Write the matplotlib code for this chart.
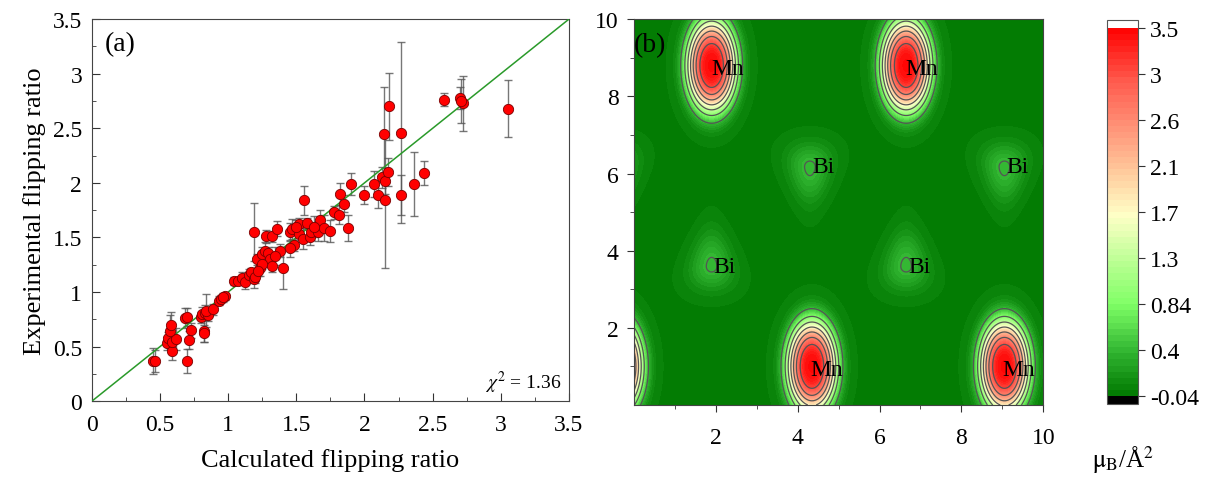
import matplotlib
matplotlib.use("Agg")
import matplotlib.pyplot as plt
import numpy as np
from matplotlib.colors import LinearSegmentedColormap

plt.rcParams['font.family'] = ['Liberation Serif', 'DejaVu Serif']
plt.rcParams['mathtext.fontset'] = 'stix'

# ---- panel (a): flipping ratios ----
calc = [0.45, 0.46, 0.55, 0.56, 0.585, 0.59, 0.62, 0.575, 0.58,
        0.70, 0.71, 0.73, 0.68, 0.70,
        0.80, 0.81, 0.82, 0.82, 0.83, 0.85, 0.84,
        0.89, 0.93, 0.95, 0.98, 0.96,
        1.04, 1.07, 1.10, 1.12, 1.15, 1.17, 1.19, 1.19, 1.20,
        1.21, 1.23, 1.25, 1.27, 1.29, 1.31, 1.32, 1.28, 1.32, 1.36, 1.38, 1.40, 1.25, 1.22, 1.34,
        1.45, 1.47, 1.52, 1.555, 1.52, 1.55, 1.60, 1.61, 1.66, 1.67, 1.70, 1.75, 1.78, 1.81,
        1.48, 1.45, 1.58, 1.63, 1.50,
        1.82, 1.85, 1.88, 1.90, 2.00, 2.07, 2.10, 2.125, 2.15, 2.17, 2.15, 2.14, 2.18,
        2.27, 2.27, 2.36, 2.44,
        2.585, 2.70, 2.72, 2.71, 3.05]
expt = [0.37, 0.37, 0.53, 0.58, 0.46, 0.54, 0.57, 0.64, 0.70,
        0.37, 0.56, 0.65, 0.76, 0.77,
        0.77, 0.80, 0.64, 0.62, 0.81, 0.79, 0.83,
        0.84, 0.92, 0.94, 0.96, 0.95,
        1.10, 1.10, 1.13, 1.09, 1.16, 1.18, 1.12, 1.55, 1.14,
        1.30, 1.22, 1.35, 1.38, 1.36, 1.30, 1.24, 1.51, 1.51, 1.58, 1.38, 1.22, 1.26, 1.19, 1.33,
        1.55, 1.58, 1.62, 1.84, 1.53, 1.49, 1.50, 1.55, 1.55, 1.66, 1.59, 1.56, 1.73, 1.71,
        1.43, 1.40, 1.63, 1.60, 1.60,
        1.90, 1.81, 1.59, 1.99, 1.89, 1.99, 1.89, 2.05, 2.02, 2.10, 1.84, 2.45, 2.70,
        2.46, 1.89, 1.99, 2.09,
        2.76, 2.78, 2.73, 2.75, 2.68]
err = [0.12, 0.10, 0.06, 0.05, 0.08, 0.07, 0.10, 0.15, 0.12,
       0.11, 0.08, 0.07, 0.09, 0.08,
       0.05, 0.06, 0.10, 0.08, 0.07, 0.06, 0.15,
       0.05, 0.04, 0.03, 0.03, 0.04,
       0.04, 0.03, 0.05, 0.06, 0.05, 0.04, 0.08, 0.27, 0.06,
       0.05, 0.07, 0.06, 0.08, 0.05, 0.07, 0.06, 0.06, 0.05, 0.07, 0.06, 0.19, 0.05, 0.04, 0.08,
       0.08, 0.09, 0.06, 0.13, 0.07, 0.10, 0.07, 0.07, 0.08, 0.09, 0.12, 0.10, 0.06, 0.09,
       0.05, 0.08, 0.05, 0.10, 0.06,
       0.10, 0.08, 0.12, 0.10, 0.08, 0.12, 0.12, 0.10, 0.12, 0.13, 0.62, 0.43, 0.31,
       0.83, 0.18, 0.29, 0.11,
       0.06, 0.10, 0.25, 0.20, 0.26]
chi2 = 1.36

# ---- panel (b): magnetisation density map ----
mn_x = [1.90, 6.65, 4.35, 9.05, -0.40, 11.35]
mn_y = [8.80, 8.80, 1.00, 1.00, 1.00, 8.80]
mn_peak = 3.38
mn_ax, mn_ay = 0.58, 1.15          # half-axes of the flat-topped peak
halo_peak, halo_sx, halo_sy = 0.07, 0.65, 1.15

bi_x = [4.30, 9.05, 1.90, 6.65, -0.45, 11.35]
bi_y = [6.17, 6.17, 3.60, 3.60, 6.17, 3.60]
bi_dir = [-1, -1, 1, 1, -1, 1]    # side where the lobe tapers
bi_peak = 0.43

mn_labels_x = [1.90, 6.62, 4.30, 9.00]
mn_labels_y = [8.72, 8.72, 0.92, 0.92]
bi_labels_x = [4.30, 9.05, 1.90, 6.65]
bi_labels_y = [6.17, 6.17, 3.60, 3.60]

cb_ticks = [-0.04, 0.4025, 0.845, 1.2875, 1.73, 2.1725, 2.615, 3.0575, 3.5]
cb_labels = ['-0.04', '0.4', '0.84', '1.3', '1.7', '2.1', '2.6', '3', '3.5']

gx, gy = np.meshgrid(np.linspace(0, 10, 500), np.linspace(0, 10, 500))
rho = np.zeros_like(gx)
for x0, y0 in zip(mn_x, mn_y):
    r = np.sqrt(((gx - x0) / mn_ax) ** 2 + ((gy - y0) / mn_ay) ** 2)
    rho += mn_peak * np.exp(-r ** 3)
    rho += halo_peak * np.exp(-((gx - x0) ** 2 / (2 * halo_sx ** 2) + (gy - y0) ** 2 / (2 * halo_sy ** 2)))
for x0, y0, d in zip(bi_x, bi_y, bi_dir):
    dy = (gy - y0) * d
    sx = np.clip(0.36 * (1 - 0.3 * dy), 0.05, None)
    sy = np.where(dy > 0, 0.62, 0.42)
    rho += bi_peak * np.exp(-((gx - x0) ** 2 / (2 * sx ** 2) + (gy - y0) ** 2 / (2 * sy ** 2)))

cmap = LinearSegmentedColormap.from_list('mag', [
    (0.0, (0.0, 0.47, 0.0)),
    ((0.4 + 0.04) / 3.54, (0.2, 0.72, 0.2)),
    ((0.84 + 0.04) / 3.54, (0.5, 1.0, 0.4)),
    ((1.3 + 0.04) / 3.54, (0.76, 1.0, 0.6)),
    ((1.7 + 0.04) / 3.54, (1.0, 1.0, 0.78)),
    ((2.1 + 0.04) / 3.54, (1.0, 0.8, 0.62)),
    ((2.6 + 0.04) / 3.54, (1.0, 0.55, 0.45)),
    ((3.0 + 0.04) / 3.54, (1.0, 0.35, 0.3)),
    (1.0, (1.0, 0.0, 0.0))])
cmap.set_under('black')
cmap.set_over('white')

fig = plt.figure(figsize=(12.26, 4.81), dpi=100)

# (a)
ax = fig.add_axes([0.075, 0.164, 0.389, 0.794])
ax.errorbar(calc, expt, yerr=err, fmt='none', ecolor='#555555', elinewidth=1,
            capsize=3, capthick=1, alpha=0.8, zorder=2)
ax.plot([0, 3.5], [0, 3.5], color='#2a9a2a', lw=1.1, zorder=3)
ax.scatter(calc, expt, s=55, c='red', edgecolors='#7a0000', linewidths=0.6, zorder=4)
ax.set_xlim(0, 3.5)
ax.set_ylim(0, 3.5)
ax.set_xticks(np.arange(0, 3.6, 0.5))
ax.set_yticks(np.arange(0, 3.6, 0.5))
ax.set_xticklabels(['0', '0.5', '1', '1.5', '2', '2.5', '3', '3.5'])
ax.set_yticklabels(['0', '0.5', '1', '1.5', '2', '2.5', '3', '3.5'])
ax.set_xticks(np.arange(0.25, 3.5, 0.5), minor=True)
ax.set_yticks(np.arange(0.25, 3.5, 0.5), minor=True)
ax.tick_params(which='both', direction='in', labelsize=17, color='#333333')
ax.tick_params(which='major', length=6)
ax.tick_params(which='minor', length=3)
ax.tick_params(axis='x', pad=9)
ax.tick_params(axis='y', pad=7)
for sp in ax.spines.values():
    sp.set_color('#444444')
ax.set_xlabel('Calculated flipping ratio', fontsize=19, labelpad=10)
ax.set_ylabel('Experimental flipping ratio', fontsize=19, labelpad=5)
ax.text(0.027, 0.935, '(a)', transform=ax.transAxes, fontsize=20, va='center')
ax.text(0.985, 0.05, r'$\chi^2$ = %.2f' % chi2, transform=ax.transAxes,
        fontsize=14, ha='right', va='center')

# (b)
bx = fig.add_axes([0.517, 0.156, 0.334, 0.802])
levels = np.linspace(-0.04, 3.5, 61)
cf = bx.contourf(gx, gy, rho, levels=levels, cmap=cmap, extend='both')
bx.contour(gx, gy, rho, levels=cb_ticks[1:-1], colors='#555555', linewidths=0.9)
for lx, ly in zip(mn_labels_x, mn_labels_y):
    bx.text(lx, ly, 'Mn', fontsize=17, ha='left', va='center')
for lx, ly in zip(bi_labels_x, bi_labels_y):
    bx.text(lx + 0.05, ly, 'Bi', fontsize=17, ha='left', va='center')
bx.set_xlim(0, 10)
bx.set_ylim(0, 10)
bx.set_xticks([2, 4, 6, 8, 10])
bx.set_yticks([2, 4, 6, 8, 10])
bx.set_xticks([1, 3, 5, 7, 9], minor=True)
bx.set_yticks([1, 3, 5, 7, 9], minor=True)
bx.tick_params(which='both', direction='out', labelsize=17, color='#333333')
bx.tick_params(which='major', length=5)
bx.tick_params(which='minor', length=3)
bx.tick_params(axis='x', pad=11)
bx.tick_params(axis='y', pad=6)
for sp in bx.spines.values():
    sp.set_color('#444444')
bx.text(0.0, 0.935, '(b)', transform=bx.transAxes, fontsize=20, va='center')

cax = fig.add_axes([0.903, 0.158, 0.0253, 0.798])
cb = fig.colorbar(cf, cax=cax, extend='both', extendrect=True, extendfrac=0.021)
cb.set_ticks(cb_ticks)
cb.set_ticklabels(cb_labels)
cb.ax.tick_params(labelsize=17, length=5, color='#333333')
cb.outline.set_edgecolor('#555555')
fig.text(0.916, 0.045, r'$\mathrm{\mu_B}$/Å$^2$', fontsize=18, ha='center', va='center')

fig.savefig('out.png', dpi=100)
